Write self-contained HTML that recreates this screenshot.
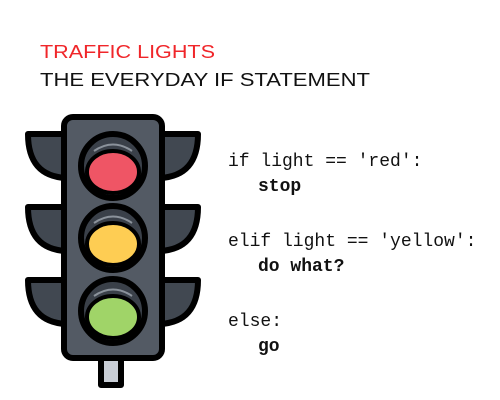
<!DOCTYPE html>
<html><head><meta charset="utf-8"><style>html,body{margin:0;padding:0;background:#fff}svg{display:block}</style></head>
<body>
<svg width="500" height="400" viewBox="0 0 500 400" xmlns="http://www.w3.org/2000/svg">
<rect width="500" height="400" fill="#fff"/>
<text x="40" y="58" font-family="Liberation Sans, sans-serif" font-size="18" fill="#f0262a" textLength="175" lengthAdjust="spacingAndGlyphs">TRAFFIC LIGHTS</text>
<text x="40" y="86" font-family="Liberation Sans, sans-serif" font-size="18" fill="#111" textLength="330" lengthAdjust="spacingAndGlyphs">THE EVERYDAY IF STATEMENT</text>
<g stroke="#000" stroke-width="6" stroke-linejoin="round">
  <rect x="101" y="355" width="20" height="30" fill="#c9ced6"/>
  <g fill="#414851">
    <path d="M66 134 H28 Q28 176 66 178 Z"/>
    <path d="M66 207 H28 Q28 249 66 251 Z"/>
    <path d="M66 280 H28 Q28 322 66 324 Z"/>
    <path d="M160 134 H198 Q198 176 160 178 Z"/>
    <path d="M160 207 H198 Q198 249 160 251 Z"/>
    <path d="M160 280 H198 Q198 322 160 324 Z"/>
  </g>
  <rect x="64" y="117" width="98" height="241" rx="9" fill="#535a64"/>
  <g fill="#3a4049">
    <circle cx="113" cy="166" r="32"/>
    <circle cx="113" cy="238" r="32"/>
    <circle cx="113" cy="311" r="32"/>
  </g>
</g>
<g stroke="#000" stroke-width="4">
  <ellipse cx="113" cy="172" rx="26" ry="21" fill="#ef5565"/>
  <ellipse cx="113" cy="244" rx="26" ry="21" fill="#fecd53"/>
  <ellipse cx="113" cy="317" rx="26" ry="21" fill="#a0d468"/>
</g>
<g fill="none" stroke="#8b929b" stroke-width="2">
  <path d="M94 151 Q113 138 132 151"/>
  <path d="M94 223 Q113 210 132 223"/>
  <path d="M94 296 Q113 283 132 296"/>
</g>
<g font-family="Liberation Mono, monospace" font-size="18" fill="#111">
  <text x="228" y="166">if light == 'red':</text>
  <text x="258" y="191" font-weight="bold">stop</text>
  <text x="228" y="246">elif light == 'yellow':</text>
  <text x="258" y="271" font-weight="bold">do what?</text>
  <text x="228" y="326">else:</text>
  <text x="258" y="351" font-weight="bold">go</text>
</g>
</svg>
</body></html>
